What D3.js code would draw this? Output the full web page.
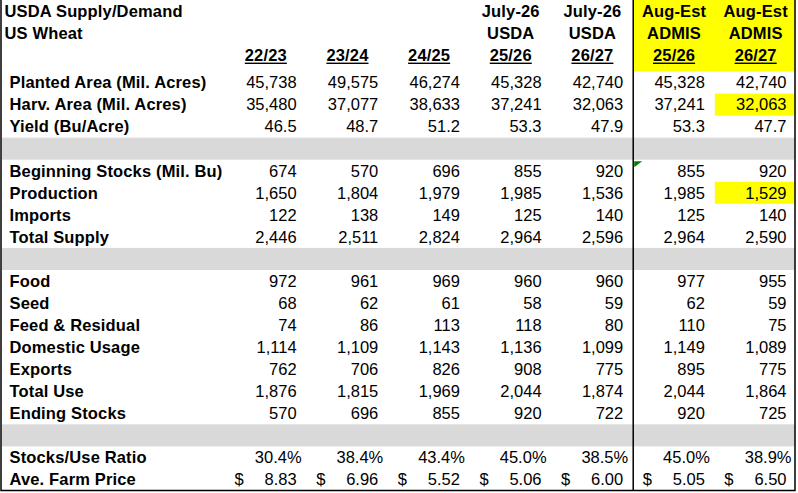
<!DOCTYPE html>
<html><head><meta charset="utf-8">
<script src="https://cdn.jsdelivr.net/npm/d3@7"></script>
<style>
html,body{margin:0;padding:0;background:#fff;}
svg{display:block;font-family:"Liberation Sans",Arial,sans-serif;}
</style></head>
<body>
<script>
// ---- data ----
const titleLines = ["USDA Supply/Demand", "US Wheat"];
const columns = ["22/23", "23/24", "24/25", "25/26", "26/27", "25/26 ADMIS", "26/27 ADMIS"];
const headerLine1 = ["", "", "", "July-26", "July-26", "Aug-Est", "Aug-Est"];
const headerLine2 = ["", "", "", "USDA", "USDA", "ADMIS", "ADMIS"];
const headerLine3 = ["22/23", "23/24", "24/25", "25/26", "26/27", "25/26", "26/27"];

// null = grey separator row
const rowLabels = ["Planted Area (Mil. Acres)", "Harv. Area (Mil. Acres)", "Yield (Bu/Acre)", null,
  "Beginning Stocks (Mil. Bu)", "Production", "Imports", "Total Supply", null,
  "Food", "Seed", "Feed & Residual", "Domestic Usage", "Exports", "Total Use", "Ending Stocks", null,
  "Stocks/Use Ratio", "Ave. Farm Price"];
const rowFormats = ["int", "int", "dec", "int", "int", "int", "int", "int", "int", "int", "int", "int", "int", "int", "pct", "usd"];

const v2223 = [45738, 35480, 46.5, 674, 1650, 122, 2446, 972, 68, 74, 1114, 762, 1876, 570, 30.4, 8.83];
const v2324 = [49575, 37077, 48.7, 570, 1804, 138, 2511, 961, 62, 86, 1109, 706, 1815, 696, 38.4, 6.96];
const v2425 = [46274, 38633, 51.2, 696, 1979, 149, 2824, 969, 61, 113, 1143, 826, 1969, 855, 43.4, 5.52];
const vJul2526 = [45328, 37241, 53.3, 855, 1985, 125, 2964, 960, 58, 118, 1136, 908, 2044, 920, 45.0, 5.06];
const vJul2627 = [42740, 32063, 47.9, 920, 1536, 140, 2596, 960, 59, 80, 1099, 775, 1874, 722, 38.5, 6.00];
const vAug2526 = [45328, 37241, 53.3, 855, 1985, 125, 2964, 977, 62, 110, 1149, 895, 2044, 920, 45.0, 5.05];
const vAug2627 = [42740, 32063, 47.7, 920, 1529, 140, 2590, 955, 59, 75, 1089, 775, 1864, 725, 38.9, 6.50];
const seriesValues = [v2223, v2324, v2425, vJul2526, vJul2627, vAug2526, vAug2627];

// highlighted cells: [column index, data-row label]
const highlights = [[6, "Harv. Area (Mil. Acres)"], [6, "Production"]];
const commentMark = [5, "Beginning Stocks (Mil. Bu)"];

// ---- layout ----
const W = 798, H = 493;
const svg = d3.select("body").append("svg").attr("width", W).attr("height", H);

const x = d3.scaleBand().domain(columns).range([225, 796.5]).paddingInner(0).paddingOuter(0);
const y = d3.scaleBand().domain(d3.range(rowLabels.length)).range([71.5, 490.5]).padding(0);
const rightX = c => x(c) + x.bandwidth() - 10;
const FS = 16.5;
const LS = 0.15;

// header yellow block
svg.append("rect").attr("x", x(columns[5])).attr("y", 0)
  .attr("width", 795 - x(columns[5])).attr("height", y(0)).attr("fill", "#ffff00");

// grey separator rows
rowLabels.forEach((l, i) => {
  if (l === null) {
    svg.append("rect").attr("x", 2).attr("y", y(i)).attr("width", 793).attr("height", y.bandwidth())
      .attr("fill", "#d9d9d9");
  }
});

// map data-row index -> display row index
const dataRows = [];
rowLabels.forEach((l, i) => { if (l !== null) dataRows.push({ label: l, row: i }); });

// highlighted cells
highlights.forEach(([ci, lab]) => {
  const r = dataRows.find(d => d.label === lab).row;
  svg.append("rect").attr("x", x(columns[ci])).attr("y", y(r))
    .attr("width", 795 - x(columns[ci])).attr("height", y.bandwidth()).attr("fill", "#ffff00");
});

// title
titleLines.forEach((t, i) => {
  svg.append("text").attr("x", 4.5).attr("y", [17.3, 39][i]).attr("font-size", FS)
    .attr("font-weight", "bold").attr("letter-spacing", LS).text(t);
});

// headers
const hBase = [17.3, 39, 61];
[headerLine1, headerLine2, headerLine3].forEach((line, li) => {
  line.forEach((t, ci) => {
    if (!t) return;
    const cx = x(columns[ci]) + x.bandwidth() / 2;
    const tx = svg.append("text").attr("x", cx).attr("y", hBase[li]).attr("font-size", FS)
      .attr("font-weight", "bold").attr("text-anchor", "middle").attr("letter-spacing", LS).text(t);
    if (li === 2) {
      const w = tx.node().getComputedTextLength();
      svg.append("rect").attr("x", cx - w / 2).attr("y", 62.6).attr("width", w).attr("height", 1.4)
        .attr("fill", "#000");
    }
  });
});

// row labels
dataRows.forEach(d => {
  svg.append("text").attr("x", 9.5).attr("y", y(d.row) + 16.8).attr("font-size", FS)
    .attr("font-weight", "bold").attr("letter-spacing", LS).text(d.label);
});

// values
const fInt = d3.format(",.0f"), fDec = d3.format(".1f"), fUsd = d3.format(".2f");
seriesValues.forEach((vals, ci) => {
  const col = columns[ci];
  vals.forEach((v, k) => {
    const r = dataRows[k].row, fmt = rowFormats[k];
    const by = y(r) + 16.8;
    if (fmt === "pct") {
      svg.append("text").attr("x", rightX(col) + 5).attr("y", by).attr("font-size", FS)
        .attr("text-anchor", "end").text(fDec(v) + "%");
    } else if (fmt === "usd") {
      svg.append("text").attr("x", x(col) + 9.5).attr("y", by).attr("font-size", FS).text("$");
      svg.append("text").attr("x", rightX(col)).attr("y", by).attr("font-size", FS)
        .attr("text-anchor", "end").text(fUsd(v));
    } else {
      svg.append("text").attr("x", rightX(col)).attr("y", by).attr("font-size", FS)
        .attr("text-anchor", "end").text(fmt === "dec" ? fDec(v) : fInt(v));
    }
  });
});

// comment / error indicator triangle
{
  const cx0 = x(columns[commentMark[0]]) + 1;
  const cy0 = y(dataRows.find(d => d.label === commentMark[1]).row) + 1.5;
  svg.append("path").attr("d", `M${cx0},${cy0}L${cx0 + 8},${cy0}L${cx0},${cy0 + 6}Z`).attr("fill", "#008000");
}

// divider and borders
svg.append("line").attr("x1", x(columns[5])).attr("x2", x(columns[5])).attr("y1", 0).attr("y2", 491)
  .attr("stroke", "#000").attr("stroke-width", 1.5);
svg.append("path").attr("d", "M1,0V490.5H795V0").attr("fill", "none").attr("stroke", "#000").attr("stroke-width", 1.5);
</script>
</body></html>
